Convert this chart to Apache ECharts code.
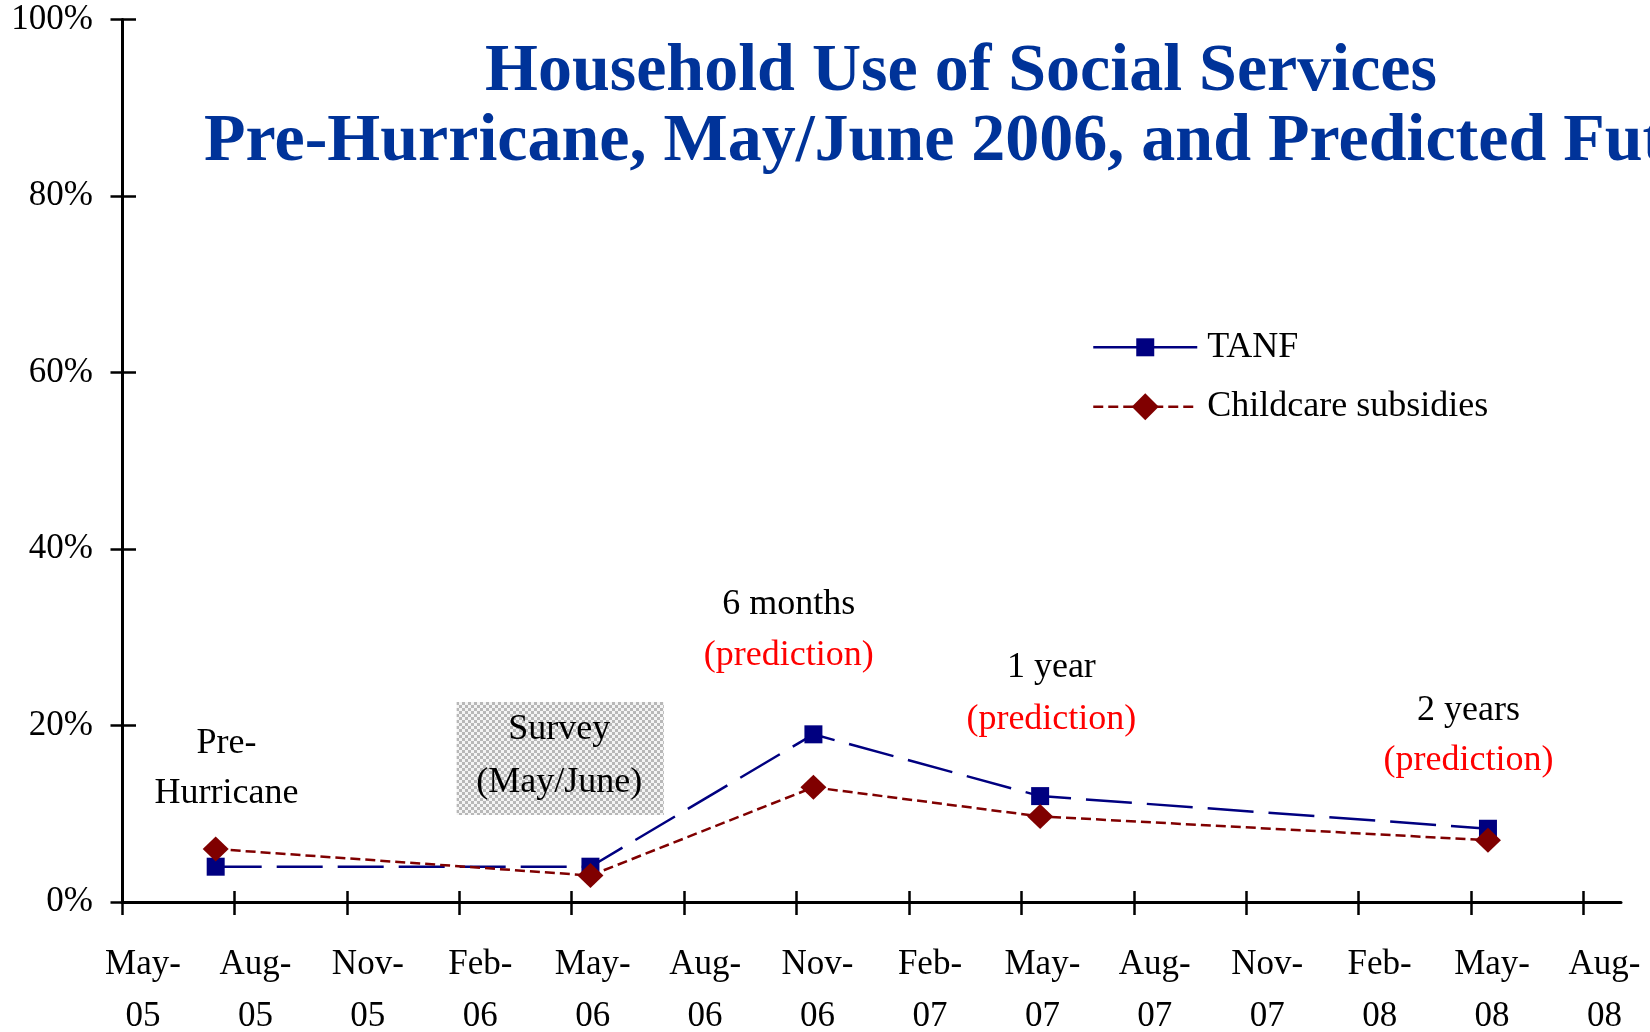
<!DOCTYPE html>
<html>
<head>
<meta charset="utf-8">
<script src="https://cdn.jsdelivr.net/npm/echarts@6/dist/echarts.min.js"></script>
<style>
  html, body { margin: 0; padding: 0; background: #ffffff; }
  #chart { width: 1650px; height: 1032px; }
</style>
</head>
<body>
<div id="chart"></div>
<script>
// Time is measured in months after May 2005 (0 = May-05).
const tickMonths = [0, 3, 6, 9, 12, 15, 18, 21, 24, 27, 30, 33, 36, 39];
const tickLabels = ['May-05', 'Aug-05', 'Nov-05', 'Feb-06', 'May-06', 'Aug-06', 'Nov-06',
                    'Feb-07', 'May-07', 'Aug-07', 'Nov-07', 'Feb-08', 'May-08', 'Aug-08'];

// Pre-hurricane, survey (May/June 2006), 6 months, 1 year, 2 years
const periodMonths = [2.5, 12.5, 18.45, 24.5, 36.45];
const tanf = [4, 4, 19, 12, 8.3];
const childcare = [6, 3, 13, 9.7, 7];

const yMax = 100;
const yStep = 20;

const FONT = '"Liberation Serif", "Times New Roman", serif';
const TANF_COLOR = '#000080';
const CARE_COLOR = '#800000';
const TITLE_COLOR = '#003399';
const RED = '#ff0000';

// Date labels sit a little to the right of their tick marks
const LABEL_SHIFT = 0.56;

// Text annotations, anchored in axis units (month, percent).
const notes = [
  { at: [2.79, 15.07], gap: 50, lines: [['Pre-', '#000'], ['Hurricane', '#000']] },
  { at: [11.67, 16.49], gap: 53, lines: [['Survey', '#000'], ['(May/June)', '#000']],
    box: [[8.93, 22.66], [14.46, 9.86]] },
  { at: [17.79, 30.76], gap: 51, lines: [['6 months', '#000'], ['(prediction)', RED]] },
  { at: [24.80, 23.57], gap: 52, lines: [['1 year', '#000'], ['(prediction)', RED]] },
  { at: [35.93, 18.81], gap: 50, lines: [['2 years', '#000'], ['(prediction)', RED]] }
];

// Fine grey/white checker used behind the survey label
function checkerCanvas() {
  const cv = document.createElement('canvas');
  cv.width = 6; cv.height = 6;
  const c = cv.getContext('2d');
  c.fillStyle = '#f4f4f4';
  c.fillRect(0, 0, 6, 6);
  c.fillStyle = '#b8b8b8';
  c.fillRect(0, 0, 3, 3);
  c.fillRect(3, 3, 3, 3);
  return cv;
}

const chart = echarts.init(document.getElementById('chart'), null, { renderer: 'canvas' });

const tickLine = { color: '#000', width: 2.5 };
const labelValues = tickMonths.map(m => m + LABEL_SHIFT);
const xTickFormatter = v => {
  const i = tickMonths.indexOf(Math.round(v - LABEL_SHIFT));
  return i < 0 ? '' : tickLabels[i].replace('-', '-\n');
};

const option = {
  animation: false,
  backgroundColor: '#ffffff',
  grid: { left: 122, right: 29, top: 19.5, bottom: 130, containLabel: false, outerBoundsMode: 'none' },
  xAxis: [
    {
      type: 'value', min: 0, max: 40, position: 'bottom',
      axisLine: { show: true, onZero: false, lineStyle: { color: '#000', width: 3 } },
      axisTick: { show: true, inside: false, length: 13, customValues: tickMonths, lineStyle: tickLine },
      axisLabel: {
        customValues: labelValues, formatter: xTickFormatter,
        margin: 37, lineHeight: 52, fontSize: 35, fontFamily: FONT, color: '#000',
        hideOverlap: false
      },
      splitLine: { show: false }
    },
    {
      type: 'value', min: 0, max: 40, position: 'bottom',
      axisLine: { show: false },
      axisTick: { show: true, inside: true, length: 11, customValues: tickMonths, lineStyle: tickLine },
      axisLabel: { show: false },
      splitLine: { show: false }
    }
  ],
  yAxis: [
    {
      type: 'value', min: 0, max: yMax, interval: yStep, position: 'left',
      axisLine: { show: true, lineStyle: { color: '#000', width: 3 } },
      axisTick: { show: true, inside: false, length: 11.5, lineStyle: tickLine },
      axisLabel: { formatter: '{value}%', margin: 29, fontSize: 35, fontFamily: FONT, color: '#000' },
      splitLine: { show: false }
    },
    {
      type: 'value', min: 0, max: yMax, interval: yStep, position: 'left',
      axisLine: { show: false },
      axisTick: { show: true, inside: true, length: 14, lineStyle: tickLine },
      axisLabel: { show: false },
      splitLine: { show: false }
    }
  ],
  legend: [
    {
      data: ['TANF'], left: 1092, top: 329.3, padding: 0, itemGap: 0,
      itemWidth: 104, itemHeight: 22.5, selectedMode: false,
      lineStyle: { type: 'solid', width: 2.5 },
      textStyle: { fontFamily: FONT, fontSize: 36, color: '#000', padding: [0, 0, 0, 5] }
    },
    {
      data: ['Childcare subsidies'], left: 1092, top: 388.7, padding: 0, itemGap: 0,
      itemWidth: 104, itemHeight: 33.75, selectedMode: false,
      lineStyle: { type: [10, 5], width: 2.5 },
      textStyle: { fontFamily: FONT, fontSize: 36, color: '#000', padding: [0, 0, 0, 5] }
    }
  ],
  series: [
    {
      name: 'TANF', type: 'line', xAxisIndex: 0, yAxisIndex: 0,
      data: periodMonths.map((m, i) => [m, tanf[i]]),
      symbol: 'rect', symbolSize: 18,
      itemStyle: { color: TANF_COLOR },
      lineStyle: { color: TANF_COLOR, width: 2.5, type: [46, 15] },
      emphasis: { disabled: true }, silent: true, z: 2
    },
    {
      name: 'Childcare subsidies', type: 'line', xAxisIndex: 0, yAxisIndex: 0,
      data: periodMonths.map((m, i) => [m, childcare[i]]),
      symbol: 'diamond', symbolSize: [26, 25],
      itemStyle: { color: CARE_COLOR },
      lineStyle: { color: CARE_COLOR, width: 2.5, type: [10, 5] },
      emphasis: { disabled: true }, silent: true, z: 3
    }
  ]
};

chart.setOption(option);

// Title lines and annotations, placed through the grid's coordinate system
const toPx = p => chart.convertToPixel({ xAxisIndex: 0, yAxisIndex: 0 }, p);
const graphics = [
  {
    type: 'text', x: 961, y: 72.3, silent: true,
    style: { text: 'Household Use of Social Services', font: 'bold 68px ' + FONT, fill: TITLE_COLOR,
             textAlign: 'center', textVerticalAlign: 'middle' }
  },
  {
    type: 'text', x: 204, y: 142, silent: true,
    style: { text: 'Pre-Hurricane, May/June 2006, and Predicted Future', font: 'bold 68px ' + FONT,
             fill: TITLE_COLOR, textAlign: 'left', textVerticalAlign: 'middle' }
  }
];

const pattern = checkerCanvas();
notes.forEach(n => {
  if (n.box) {
    const a = toPx(n.box[0]);
    const b = toPx(n.box[1]);
    graphics.push({
      type: 'rect', silent: true, z: 1,
      shape: { x: a[0], y: a[1], width: b[0] - a[0], height: b[1] - a[1] },
      style: { fill: { image: pattern, repeat: 'repeat' } }
    });
  }
  const c = toPx(n.at);
  n.lines.forEach((ln, k) => {
    graphics.push({
      type: 'text', x: c[0], y: c[1] + (k - 0.5) * n.gap, silent: true, z: 2,
      style: { text: ln[0], font: '36px ' + FONT, fill: ln[1], textAlign: 'center', textVerticalAlign: 'middle' }
    });
  });
});

chart.setOption({ graphic: graphics });
</script>
</body>
</html>
